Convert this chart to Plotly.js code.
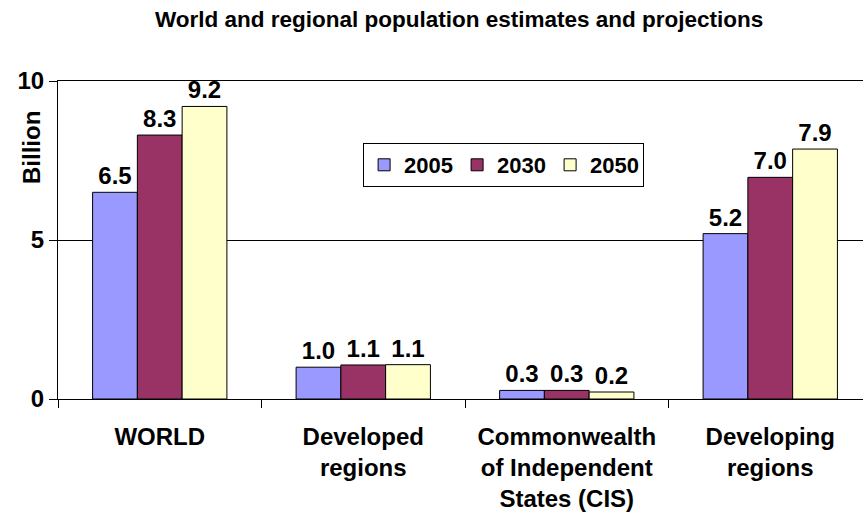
<!DOCTYPE html>
<html>
<head>
<meta charset="utf-8">
<script src="https://cdn.plot.ly/plotly-3.0.1.min.js"></script>
<style>html,body{margin:0;padding:0;background:#fff;}#chart{width:863px;height:516px;}</style>
</head>
<body>
<div id="chart"></div>
<script>
const categories = ["WORLD", "Developed<br>regions", "Commonwealth<br>of Independent<br>States (CIS)", "Developing<br>regions"];
const seriesNames = ["2005", "2030", "2050"];
const values2005 = [6.5, 1.0, 0.27, 5.2];
const values2030 = [8.3, 1.07, 0.27, 6.97];
const values2050 = [9.2, 1.08, 0.22, 7.86];
const yTicks = [0, 5, 10];
const yTitle = "Billion";

const colors = ["#9999FF", "#993366", "#FFFFCC"];
const allValues = [values2005, values2030, values2050];
const FONT = "Liberation Sans, Arial, sans-serif";

const traces = allValues.map((vals, i) => ({
  type: "bar",
  name: seriesNames[i],
  x: categories,
  y: vals,
  marker: {color: colors[i], line: {color: "#000", width: 1}},
  texttemplate: "%{y:.1f}",
  textposition: "outside",
  constraintext: "none",
  cliponaxis: false,
  textfont: {family: FONT, size: 24, weight: 700, color: "#000"},
  hoverinfo: "skip"
}));

const layout = {
  width: 863, height: 516,
  margin: {l: 58, r: 0, t: 81, b: 117},
  paper_bgcolor: "#fff", plot_bgcolor: "#fff",
  font: {family: FONT, color: "#000", size: 24, weight: 700},
  title: {
    text: "World and regional population estimates and projections",
    font: {family: FONT, size: 22.5, weight: 700, color: "#000"},
    x: 0.532, xanchor: "center", y: 0.963, yanchor: "middle"
  },
  barmode: "group",
  bargap: 0.34,
  bargroupgap: 0,
  showlegend: true,
  legend: {
    orientation: "h",
    x: 0.379, xanchor: "left", y: 0.805, yanchor: "top",
    bordercolor: "#000", borderwidth: 1, bgcolor: "#fff",
    font: {family: FONT, size: 22, weight: 700, color: "#000"},
    itemwidth: 30, traceorder: "normal",
    entrywidth: 48, entrywidthmode: "pixels"
  },
  xaxis: {
    range: [-0.5, -0.5 + 805 / 203.5],
    showline: true, mirror: true, linecolor: "#000", linewidth: 1,
    showgrid: false,
    ticks: "outside", tickson: "boundaries", ticklen: 8, tickcolor: "#000",
    ticklabelstandoff: 16,
    tickfont: {family: FONT, size: 24, weight: 700, color: "#000"},
    fixedrange: true
  },
  yaxis: {
    range: [0, 10],
    tickvals: yTicks,
    ticktext: yTicks.map(String),
    showline: true, linecolor: "#000", linewidth: 1,
    showgrid: true, gridcolor: "#000", gridwidth: 1,
    zeroline: true, zerolinecolor: "#000", zerolinewidth: 1,
    ticks: "outside", ticklen: 8, tickcolor: "#000",
    tickfont: {family: FONT, size: 24, weight: 700, color: "#000"},
    fixedrange: true
  },
  annotations: [{
    text: yTitle, textangle: -90, showarrow: false,
    xref: "paper", yref: "paper", x: -0.032, y: 0.79,
    xanchor: "center", yanchor: "middle",
    font: {family: FONT, size: 24, weight: 700, color: "#000"}
  }]
};

Plotly.newPlot("chart", traces, layout, {displayModeBar: false, staticPlot: true});
</script>
</body>
</html>
